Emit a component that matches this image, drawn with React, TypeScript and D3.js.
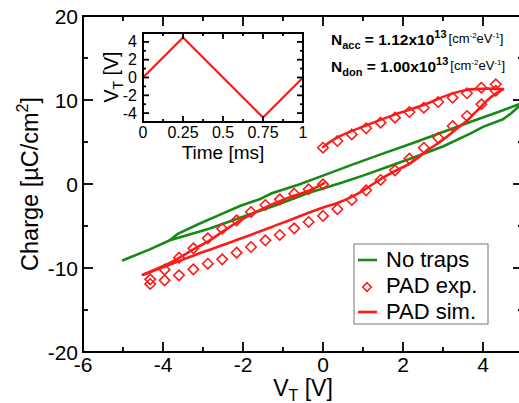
import React from "react";
import * as d3 from "d3";

// ---- data ----
const greenUpV = [-5.0, -4.33, -3.83, -3.62, -3.08, -2.6, -2.075, -1.55, -1.28, -0.6, 0, 0.7, 1.425, 2.2, 3.0, 3.8, 4.4, 5.0];
const greenUpQ = [-9.08, -7.78, -6.7, -5.9, -4.7, -3.7, -2.62, -1.75, -1.1, -0.05, 1.0, 2.25, 3.5, 4.8, 6.2, 7.6, 8.6, 9.7];
const greenLowV = [5.0, 4.7, 4.5, 4.0, 3.68, 3.01, 2.4, 1.76, 1.0, 0.5, -0.325, -1.16, -2.0, -2.83, -3.4, -3.83];
const greenLowQ = [9.7, 8.4, 7.7, 6.8, 6.0, 4.5, 3.4, 2.3, 1.0, 0.2, -1.0, -2.5, -3.9, -5.3, -6.1, -6.7];

const simUpV = [0, 0.34, 1.09, 1.76, 2.51, 3.18, 3.59, 4.09, 4.5];
const simUpQ = [4.4, 5.5, 7.0, 8.2, 9.4, 10.7, 11.2, 11.35, 11.3];
const simDownV = [4.5, 4.3, 4.09, 3.93, 3.76, 3.59, 3.43, 3.01, 2.59, 2.18, 1.8, 1.43, 1.05, 0.675, 0.34, 0, -1, -2, -3, -4, -4.5];
const simDownQ = [11.3, 10.7, 9.9, 9.1, 8.3, 7.5, 6.9, 5.3, 3.93, 2.46, 1.55, 0.55, -0.63, -1.63, -2.3, -2.8, -4.6, -6.4, -8.1, -9.9, -10.8];
const simRetV = [-4.5, -3.99, -3.66, -3.24, -2.83, -2.49, -2.16, -1.83, -1.49, -1.16, -0.74, -0.325, 0.03];
const simRetQ = [-10.8, -9.76, -8.97, -7.78, -6.7, -5.6, -4.6, -3.7, -2.9, -2.2, -1.43, -0.75, 0.1];

const expUpV = [0, 0.36, 0.72, 1.08, 1.44, 1.8, 2.16, 2.52, 2.88, 3.24, 3.6, 3.96, 4.32];
const expUpQ = [4.32, 5.12, 5.9, 6.63, 7.3, 7.9, 8.57, 9.08, 9.76, 10.27, 10.8, 11.47, 11.87];
const expDownV = [4.32, 3.96, 3.6, 3.24, 2.88, 2.52, 2.16, 1.8, 1.44, 1.08, 0.72, 0.36, 0, -0.36, -0.72, -1.08, -1.44, -1.8, -2.16, -2.52, -2.88, -3.24, -3.6, -3.96, -4.32];
const expDownQ = [11.1, 9.49, 8.1, 6.9, 5.5, 4.32, 3.02, 1.63, 0.48, -0.75, -1.9, -3.0, -3.8, -4.52, -5.28, -6.07, -6.71, -7.5, -8.17, -8.97, -9.49, -10.16, -10.87, -11.47, -11.9];
const expRetV = [-4.32, -3.96, -3.6, -3.24, -2.88, -2.52, -2.16, -1.8, -1.44, -1.08, -0.72, -0.36, 0];
const expRetQ = [-11.35, -10.2, -8.77, -7.66, -6.47, -5.32, -4.33, -3.33, -2.5, -1.83, -1.15, -0.63, -0.04];

const insetT = [0, 0.25, 0.75, 1];
const insetV = [0, 4.5, -4.5, 0];

const xMajor = [-6, -4, -2, 0, 2, 4];
const xMinor = [-5, -3, -1, 1, 3];
const yMajor = [-20, -10, 0, 10, 20];
const yMinor = [-15, -5, 5, 15];
const inXMajor = [0, 0.25, 0.5, 0.75, 1];
const inXLabels = ["0", "0.25", "0.5", "0.75", "1"];
const inXMinor = [0.125, 0.375, 0.625, 0.875];
const inYMajor = [-4, -2, 0, 2, 4];
const inYMinor = [-5, -3, -1, 1, 3, 5];

const FONT = "'Liberation Sans', Arial, Helvetica, sans-serif";
const GREEN = "#168a16";
const RED = "#ff1a1a";

type P = [number, number];
const zip = (a: number[], b: number[]): P[] => a.map((v, i) => [v, b[i]]);

export default function App() {
  const x = d3.scaleLinear().domain([-6, 5]).range([83, 523]);
  const y = d3.scaleLinear().domain([-20, 20]).range([352, 16]);
  const ix = d3.scaleLinear().domain([0, 1]).range([143, 303]);
  const iy = d3.scaleLinear().domain([-5, 5]).range([122, 33]);

  const lin = d3.line<P>().x((d) => x(d[0])).y((d) => y(d[1]));
  const smooth = d3.line<P>().x((d) => x(d[0])).y((d) => y(d[1])).curve(d3.curveCatmullRom.alpha(0.5));
  const inLine = d3.line<P>().x((d) => ix(d[0])).y((d) => iy(d[1]));

  const greenPath = lin([...zip(greenUpV, greenUpQ), ...zip(greenLowV, greenLowQ)]) || "";
  const simPaths = [zip(simUpV, simUpQ), zip(simDownV, simDownQ), zip(simRetV, simRetQ)].map((p) => smooth(p) || "");
  const expPts = [...zip(expUpV, expUpQ), ...zip(expDownV, expDownQ), ...zip(expRetV, expRetQ)];

  const diamond = (cx: number, cy: number, r: number) => `M${cx},${cy - r}L${cx + r},${cy}L${cx},${cy + r}L${cx - r},${cy}Z`;

  const X0 = 83, X1 = 523, Y0 = 16, Y1 = 352;
  const tickStroke = { stroke: "#000", strokeWidth: 1.8 };

  return (
    <svg width={519} height={403} style={{ position: "fixed", left: 0, top: 0, background: "#fff" }} fontFamily={FONT}>
      <rect x={0} y={0} width={519} height={403} fill="#fff" />
      <defs>
        <clipPath id="plotclip">
          <rect x={X0} y={Y0} width={X1 - X0} height={Y1 - Y0} />
        </clipPath>
      </defs>

      {/* data */}
      <g clipPath="url(#plotclip)">
        <path d={greenPath} fill="none" stroke={GREEN} strokeWidth={2.6} strokeLinejoin="round" strokeLinecap="round" />
        {simPaths.map((d, i) => (
          <path key={i} d={d} fill="none" stroke={RED} strokeWidth={2.6} strokeLinejoin="round" strokeLinecap="round" />
        ))}
        {expPts.map((p, i) => (
          <path key={i} d={diamond(x(p[0]), y(p[1]), 5.2)} fill="none" stroke={RED} strokeWidth={1.6} />
        ))}
      </g>

      {/* frame */}
      <rect x={X0} y={Y0} width={X1 - X0} height={Y1 - Y0} fill="none" stroke="#000" strokeWidth={2} />
      {xMajor.map((v) => (
        <g key={"xM" + v}>
          <line x1={x(v)} x2={x(v)} y1={Y1} y2={Y1 - 10} {...tickStroke} />
          <line x1={x(v)} x2={x(v)} y1={Y0} y2={Y0 + 10} {...tickStroke} />
          <text x={x(v)} y={372} fontSize={21} textAnchor="middle">{v}</text>
        </g>
      ))}
      {xMinor.map((v) => (
        <g key={"xm" + v}>
          <line x1={x(v)} x2={x(v)} y1={Y1} y2={Y1 - 5} {...tickStroke} />
          <line x1={x(v)} x2={x(v)} y1={Y0} y2={Y0 + 5} {...tickStroke} />
        </g>
      ))}
      {yMajor.map((v) => (
        <g key={"yM" + v}>
          <line x1={X0} x2={X0 + 10} y1={y(v)} y2={y(v)} {...tickStroke} />
          <line x1={X1} x2={X1 - 10} y1={y(v)} y2={y(v)} {...tickStroke} />
          <text x={78} y={y(v) + 7.5} fontSize={21} textAnchor="end">{v}</text>
        </g>
      ))}
      {yMinor.map((v) => (
        <g key={"ym" + v}>
          <line x1={X0} x2={X0 + 5} y1={y(v)} y2={y(v)} {...tickStroke} />
          <line x1={X1} x2={X1 - 5} y1={y(v)} y2={y(v)} {...tickStroke} />
        </g>
      ))}

      {/* axis titles */}
      <text x={303} y={396} fontSize={23} textAnchor="middle">
        V<tspan fontSize={16} dy={5}>T</tspan><tspan dy={-5}> [V]</tspan>
      </text>
      <text transform="translate(38,184) rotate(-90)" fontSize={23.5} textAnchor="middle">
        Charge [µC/cm<tspan fontSize={16} dy={-10}>2</tspan><tspan dy={10}>]</tspan>
      </text>

      {/* inset */}
      <rect x={143} y={33} width={160} height={89} fill="#fff" stroke="none" />
      <path d={inLine(zip(insetT, insetV)) || ""} fill="none" stroke={RED} strokeWidth={2.2} strokeLinejoin="miter" />
      <rect x={143} y={33} width={160} height={89} fill="none" stroke="#000" strokeWidth={2} />
      {inXMajor.map((v, i) => (
        <g key={"ixM" + v}>
          <line x1={ix(v)} x2={ix(v)} y1={122} y2={116} {...tickStroke} />
          <line x1={ix(v)} x2={ix(v)} y1={33} y2={39} {...tickStroke} />
          <text x={ix(v)} y={138} fontSize={16} textAnchor="middle">{inXLabels[i]}</text>
        </g>
      ))}
      {inXMinor.map((v) => (
        <g key={"ixm" + v}>
          <line x1={ix(v)} x2={ix(v)} y1={122} y2={119} {...tickStroke} />
          <line x1={ix(v)} x2={ix(v)} y1={33} y2={36} {...tickStroke} />
        </g>
      ))}
      {inYMajor.map((v) => (
        <g key={"iyM" + v}>
          <line x1={143} x2={149} y1={iy(v)} y2={iy(v)} {...tickStroke} />
          <line x1={303} x2={297} y1={iy(v)} y2={iy(v)} {...tickStroke} />
          <text x={137} y={iy(v) + 5.5} fontSize={16} textAnchor="end">{v}</text>
        </g>
      ))}
      {inYMinor.map((v) => (
        <g key={"iym" + v}>
          <line x1={143} x2={146} y1={iy(v)} y2={iy(v)} {...tickStroke} />
          <line x1={303} x2={300} y1={iy(v)} y2={iy(v)} {...tickStroke} />
        </g>
      ))}
      <text x={223} y={158.5} fontSize={19} textAnchor="middle">Time [ms]</text>
      <text transform="translate(118,77) rotate(-90)" fontSize={19.5} textAnchor="middle">
        V<tspan fontSize={14} dy={5}>T</tspan><tspan dy={-5}> [V]</tspan>
      </text>

      {/* annotations */}
      <text x={331} y={45} fontSize={15.5} fontWeight="bold">
        N<tspan fontSize={11} dy={4}>acc</tspan><tspan dy={-4}> = 1.12x10</tspan>
        <tspan fontSize={11} dy={-7}>13</tspan>
        <tspan fontSize={13} fontWeight="normal" dy={5} dx={2}>[cm</tspan>
        <tspan fontSize={8} fontWeight="normal" dy={-5}>-2</tspan>
        <tspan fontSize={13} fontWeight="normal" dy={5}>eV</tspan>
        <tspan fontSize={8} fontWeight="normal" dy={-5}>-1</tspan>
        <tspan fontSize={13} fontWeight="normal" dy={5}>]</tspan>
      </text>
      <text x={331} y={72} fontSize={15.5} fontWeight="bold">
        N<tspan fontSize={11} dy={4}>don</tspan><tspan dy={-4}> = 1.00x10</tspan>
        <tspan fontSize={11} dy={-7}>13</tspan>
        <tspan fontSize={13} fontWeight="normal" dy={5} dx={2}>[cm</tspan>
        <tspan fontSize={8} fontWeight="normal" dy={-5}>-2</tspan>
        <tspan fontSize={13} fontWeight="normal" dy={5}>eV</tspan>
        <tspan fontSize={8} fontWeight="normal" dy={-5}>-1</tspan>
        <tspan fontSize={13} fontWeight="normal" dy={5}>]</tspan>
      </text>

      {/* legend */}
      <rect x={354} y={244} width={134} height={80} fill="#fff" stroke="#777" strokeWidth={1} />
      <line x1={358} x2={377} y1={260} y2={260} stroke={GREEN} strokeWidth={2.6} />
      <text x={386} y={267} fontSize={22}>No traps</text>
      <path d={diamond(367, 287, 4.3)} fill="none" stroke={RED} strokeWidth={1.6} />
      <text x={386} y={293} fontSize={22}>PAD exp.</text>
      <line x1={358} x2={377} y1={312} y2={312} stroke={RED} strokeWidth={2.6} />
      <text x={386} y={319} fontSize={22}>PAD sim.</text>
    </svg>
  );
}
